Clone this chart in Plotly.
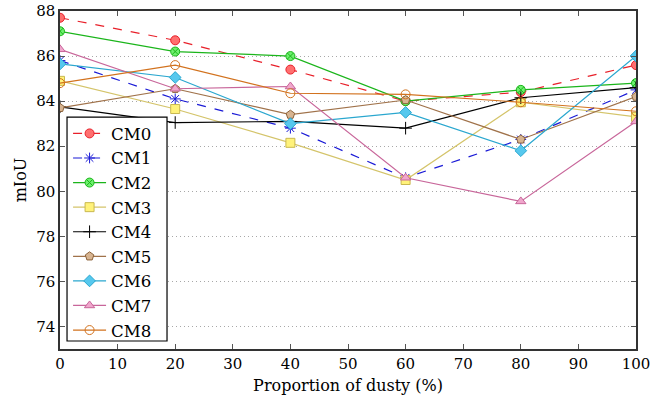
import plotly.graph_objects as go

x_vals = [0, 20, 40, 60, 80, 100]
series_names = ["CM0", "CM1", "CM2", "CM3", "CM4", "CM5", "CM6", "CM7", "CM8"]
cm0 = [87.7, 86.7, 85.4, 84.0, 84.4, 85.6]
cm1 = [85.8, 84.1, 82.8, 80.6, 82.3, 84.5]
cm2 = [87.1, 86.2, 86.0, 84.0, 84.5, 84.8]
cm3 = [84.9, 83.65, 82.15, 80.5, 83.95, 83.3]
cm4 = [83.75, 83.05, 83.1, 82.8, 84.15, 84.6]
cm5 = [83.7, 84.55, 83.4, 84.05, 82.3, 84.2]
cm6 = [85.65, 85.05, 83.0, 83.5, 81.8, 86.0]
cm7 = [86.3, 84.55, 84.65, 80.6, 79.55, 83.1]
cm8 = [84.8, 85.6, 84.35, 84.3, 83.95, 83.55]
y_ticks = [74, 76, 78, 80, 82, 84, 86, 88]
x_ticks = [0, 10, 20, 30, 40, 50, 60, 70, 80, 90, 100]

styles = [
    dict(color="#e8202a", dash="dash", symbol="circle", fill="#ff6f6f", mline="#e8202a"),
    dict(color="#1a1ad6", dash="dash", symbol="asterisk-open", fill="#1a1ad6", mline="#1a1ad6"),
    dict(color="#1bb51b", dash="solid", symbol="circle-x", fill="#6ef06e", mline="#1bb51b"),
    dict(color="#d4c46a", dash="solid", symbol="square", fill="#fff27a", mline="#c9b850"),
    dict(color="#000000", dash="solid", symbol="cross-thin-open", fill="#000000", mline="#000000"),
    dict(color="#a0724a", dash="solid", symbol="pentagon", fill="#d7b491", mline="#8c6239"),
    dict(color="#2aa7cf", dash="solid", symbol="diamond", fill="#56c8ee", mline="#2aa7cf"),
    dict(color="#c8669a", dash="solid", symbol="triangle-up", fill="#f0a6cc", mline="#c8669a"),
    dict(color="#d2721e", dash="solid", symbol="circle-open", fill="#d2721e", mline="#d2721e"),
]

data = [cm0, cm1, cm2, cm3, cm4, cm5, cm6, cm7, cm8]
fig = go.Figure()
for name, ys, st in zip(series_names, data, styles):
    fig.add_trace(go.Scatter(
        x=x_vals, y=ys, name=name, mode="lines+markers",
        line=dict(color=st["color"], width=1.2, dash=st["dash"]),
        marker=dict(symbol=st["symbol"], size=9, color=st["fill"],
                    line=dict(color=st["mline"], width=1)),
    ))

# legend box drawn as a shape (white background with black border)
fig.add_shape(type="rect", xref="paper", yref="paper",
              x0=0.0122, x1=0.1858, y0=0.0237, y1=0.686,
              fillcolor="white", line=dict(color="black", width=1.2), layer="above")

font_family = "DejaVu Serif, Liberation Serif, serif"
fig.update_layout(
    width=651, height=407,
    margin=dict(l=60, r=15, t=11, b=58),
    paper_bgcolor="white", plot_bgcolor="white",
    font=dict(family=font_family, size=15, color="black"),
    showlegend=True,
    legend=dict(x=0.014, y=0.689, xanchor="left", yanchor="top",
                bgcolor="rgba(0,0,0,0)", borderwidth=0,
                font=dict(family=font_family, size=16.6), tracegroupgap=0,
                itemwidth=33),
    xaxis=dict(range=[0, 100], tickvals=x_ticks, ticks="inside", ticklen=5,
               tickcolor="#555", showline=True, linecolor="#333", linewidth=1.5,
               mirror="ticks", showgrid=False, zeroline=False, automargin=False,
               title=dict(text="Proportion of dusty (%)", font=dict(size=16), standoff=8),
               tickfont=dict(size=15)),
    yaxis=dict(range=[73, 88], tickvals=y_ticks, ticks="inside", ticklen=5,
               tickcolor="#555", showline=True, linecolor="#333", linewidth=1.5,
               mirror="ticks", showgrid=True, gridcolor="#a8a8a8", griddash="1px,3px",
               gridwidth=1, zeroline=False, automargin=False,
               title=dict(text="mIoU", font=dict(size=16), standoff=6),
               tickfont=dict(size=15)),
)
fig.write_html("out.html")
